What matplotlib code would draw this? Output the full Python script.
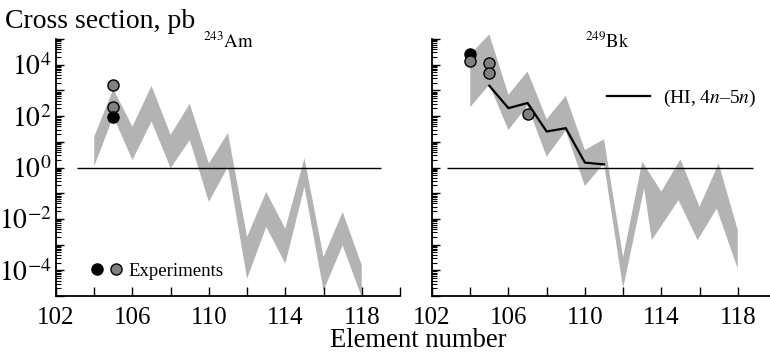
import matplotlib
matplotlib.use("Agg")
import matplotlib.pyplot as plt
from matplotlib.ticker import LogLocator, FuncFormatter, NullFormatter
from matplotlib.legend_handler import HandlerTuple
import numpy as np

plt.rcParams["font.family"] = "Liberation Serif"
plt.rcParams["mathtext.fontset"] = "stix"

#%% data (log10 of cross section, pb)
# 243Am band
am_z_up = [104, 105, 106, 107, 108, 109, 110, 111, 112, 113, 114, 115, 116, 117, 118]
am_up = [1.20, 3.05, 1.59, 3.18, 1.27, 2.48, 0.16, 1.34, -2.70, -0.95, -2.38, 0.36, -3.48, -1.73, -3.81]
am_z_lo = [104, 105, 106, 107, 108, 109, 110, 111, 112, 113, 114, 115, 116, 117, 118]
am_lo = [0.05, 1.98, 0.29, 1.79, -0.03, 1.07, -1.34, 0.03, -4.33, -2.31, -3.74, -0.75, -4.79, -3.03, -5.05]
am_exp_z_black = [105]
am_exp_black = [1.96]
am_exp_z_gray = [105, 105]
am_exp_gray = [3.22, 2.35]

# 249Bk band
bk_z_up = [104, 105, 106, 107, 108, 109, 110, 111, 112, 113, 114, 115, 116, 117, 118]
bk_up = [4.40, 5.18, 2.83, 3.74, 1.88, 2.79, 0.68, 1.10, -3.50, 0.23, -0.94, 0.32, -1.53, 0.16, -2.44]
bk_z_lo = [104, 105, 106, 107, 108, 109, 110, 111, 112, 113.1, 113.5, 114.9, 115.9, 116.9, 118]
bk_lo = [2.35, 3.22, 1.46, 2.40, 0.42, 1.44, -0.72, 0.16, -4.70, -0.81, -2.83, -1.27, -2.83, -1.60, -3.94]
bk_hi_z = [105, 106, 107, 108, 109, 110, 111]
bk_hi = [3.18, 2.31, 2.51, 1.40, 1.53, 0.19, 0.12]
bk_exp_z_black = [104]
bk_exp_black = [4.42]
bk_exp_z_gray = [104, 105, 105, 107]
bk_exp_gray = [4.13, 4.07, 3.68, 2.08]

xticks = list(range(102, 121, 2))
xticklabels = [str(t) if (t - 102) % 4 == 0 else "" for t in xticks]

#%% figure
fig = plt.figure(figsize=(7.7, 3.56), dpi=100)
ax1 = fig.add_axes([56 / 770, 60 / 356, 344 / 770, 257 / 356])
ax2 = fig.add_axes([432 / 770, 60 / 356, 344 / 770, 257 / 356])

band_color = "#b3b3b3"
gray = "#808080"


def ylab(v, pos):
    e = int(round(np.log10(v)))
    return f"$10^{{{e}}}$" if e % 2 == 0 else ""


for ax in (ax1, ax2):
    ax.set_yscale("log")
    ax.set_xlim(102, 120)
    ax.set_ylim(1e-5, 1e5)
    ax.spines["top"].set_visible(False)
    ax.spines["right"].set_visible(False)
    ax.spines["left"].set_linewidth(1.3)
    ax.spines["bottom"].set_linewidth(1.3)
    ax.set_xticks(xticks)
    ax.set_xticklabels(xticklabels)
    ax.yaxis.set_major_locator(LogLocator(base=10, subs=(1.0,), numticks=20))
    ax.yaxis.set_minor_locator(LogLocator(base=10, subs=np.arange(2, 10), numticks=20))
    ax.yaxis.set_major_formatter(FuncFormatter(ylab))
    ax.yaxis.set_minor_formatter(NullFormatter())
    ax.tick_params(axis="x", direction="in", length=6.5, width=1, labelsize=18, pad=8)
    ax.tick_params(axis="y", which="major", direction="in", length=6, width=1, labelsize=20, pad=3)
    ax.tick_params(axis="y", which="minor", direction="in", length=3.5, width=0.8)

ax2.tick_params(axis="y", labelleft=False)

# left panel: 243Am
ax1.fill(am_z_up + am_z_lo[::-1], 10.0 ** np.array(am_up + am_lo[::-1]),
         color=band_color, lw=0, clip_on=False, zorder=1)
ax1.hlines(1, 103.1, 119, color="black", lw=1, zorder=2)
g1, = ax1.plot(am_exp_z_gray, 10.0 ** np.array(am_exp_gray), "o", ms=8, mfc=gray, mec="black", mew=1, zorder=3)
b1, = ax1.plot(am_exp_z_black, 10.0 ** np.array(am_exp_black), "o", ms=8, mfc="black", mec="black", mew=1, zorder=4)
ax1.text(0.427, 0.965, r"$^{243}\mathrm{Am}$", transform=ax1.transAxes, fontsize=13.5, va="baseline", ha="left")
ax1.legend([(b1, g1)], ["Experiments"], handler_map={tuple: HandlerTuple(ndivide=None, pad=0)},
           loc="center left", bbox_to_anchor=(0.0916, 0.097), frameon=False, fontsize=13.5,
           handlelength=2.03, handletextpad=0.14, borderpad=0, borderaxespad=0)

# right panel: 249Bk
ax2.fill(bk_z_up + bk_z_lo[::-1], 10.0 ** np.array(bk_up + bk_lo[::-1]),
         color=band_color, lw=0, clip_on=False, zorder=1)
ax2.hlines(1, 102.8, 118.8, color="black", lw=1, zorder=2)
hi, = ax2.plot(bk_hi_z, 10.0 ** np.array(bk_hi), color="black", lw=1.6, zorder=3)
ax2.plot(bk_exp_z_black, 10.0 ** np.array(bk_exp_black), "o", ms=8, mfc="black", mec="black", mew=1, zorder=4)
ax2.plot(bk_exp_z_gray, 10.0 ** np.array(bk_exp_gray), "o", ms=8, mfc=gray, mec="black", mew=1, zorder=5)
ax2.text(0.445, 0.965, r"$^{249}\mathrm{Bk}$", transform=ax2.transAxes, fontsize=13.5, va="baseline", ha="left")
ax2.legend([hi], [r"(HI, 4$n$–5$n$)"], loc="center left", bbox_to_anchor=(0.509, 0.770),
           frameon=False, fontsize=14, handlelength=2.2, handletextpad=0.67, borderpad=0, borderaxespad=0)

fig.text(5 / 770, (356 - 28) / 356, "Cross section, pb", fontsize=20, ha="left", va="baseline")
fig.text(418 / 770, (356 - 347) / 356, "Element number", fontsize=19.2, ha="center", va="baseline")

fig.savefig("out.png", dpi=100)
